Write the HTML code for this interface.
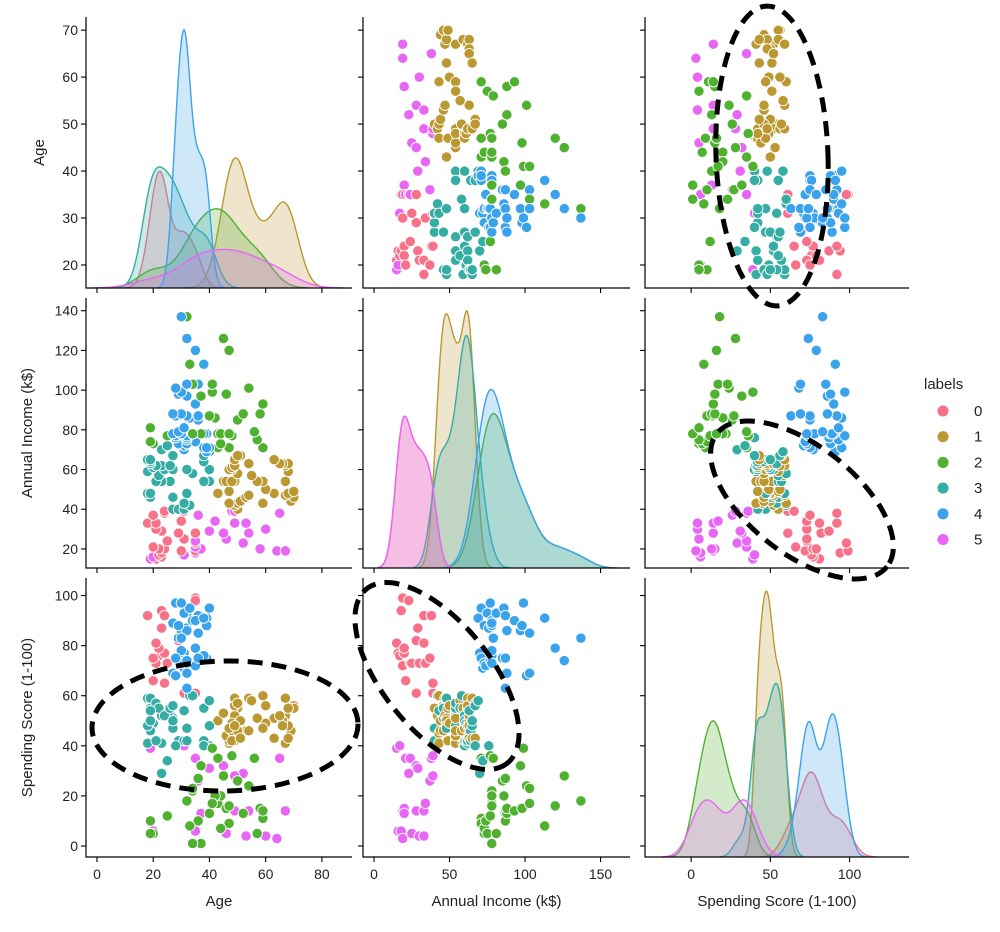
<!DOCTYPE html>
<html><head><meta charset="utf-8"><style>
body{margin:0;background:#fff;}
svg text{font-family:"Liberation Sans","DejaVu Sans",sans-serif;fill:#222;}
</style></head><body>
<svg id="chart" width="1000" height="927" viewBox="0 0 1000 927" xmlns="http://www.w3.org/2000/svg">
<g id="marks"></g>
<g id="axes"></g>
<g id="annot" fill="none" stroke="#000" stroke-width="5" stroke-dasharray="15,9">
<ellipse cx="772" cy="156" rx="56" ry="150" transform="rotate(-2 772 156)"/>
<ellipse cx="802" cy="500" rx="108" ry="54" transform="rotate(38 802 500)"/>
<ellipse cx="225" cy="726" rx="133" ry="65" transform="rotate(-1 225 726)"/>
<ellipse cx="437" cy="676" rx="112" ry="54" transform="rotate(51 437 676)"/>
</g>
<g id="legend">
<text x="924" y="389" font-size="15">labels</text>
</g>
</svg>
<script>
// Mall customers: age, annual income (k$), spending score
const ages=[19,21,20,23,31,22,35,23,64,30,67,35,58,24,37,22,35,20,52,35,35,25,46,31,54,29,45,35,40,23,60,21,53,18,49,21,42,30,36,20,65,24,48,31,49,24,50,27,29,31,49,33,31,59,50,47,51,69,27,53,70,19,67,54,63,18,43,68,19,32,70,47,60,60,59,26,45,40,23,49,57,38,67,46,21,48,55,22,34,50,68,18,48,40,32,24,47,27,48,20,23,49,67,26,49,21,66,54,68,66,65,19,38,19,18,19,63,49,51,50,27,38,40,39,23,31,43,40,59,38,47,39,25,31,20,29,44,32,19,35,57,32,28,32,25,28,48,32,34,34,43,39,44,38,47,27,37,30,34,30,56,29,19,31,50,36,42,33,36,32,40,28,36,36,52,30,58,27,59,35,37,32,46,29,41,30,54,28,41,36,34,32,33,38,47,35,45,32,32,30];
const incomes=[15,15,16,16,17,17,18,18,19,19,19,19,20,20,20,20,21,21,23,23,24,24,25,25,28,28,28,28,29,29,30,30,33,33,33,33,34,34,37,37,38,38,39,39,39,39,40,40,40,40,42,42,43,43,43,43,44,44,46,46,46,46,47,47,48,48,48,48,48,48,49,49,50,50,54,54,54,54,54,54,54,54,54,54,54,54,57,57,58,58,59,59,60,60,60,60,60,60,61,61,62,62,62,62,62,62,63,63,63,63,63,63,64,64,65,65,65,65,67,67,67,67,69,69,70,70,71,71,71,71,71,71,72,72,73,73,73,73,74,74,75,75,76,76,77,77,77,77,78,78,78,78,78,78,78,78,78,78,78,78,79,79,81,81,85,85,86,86,87,87,87,87,87,87,88,88,88,88,93,93,97,97,98,98,99,99,101,101,103,103,103,103,113,113,120,120,126,126,137,137];
const scores=[39,81,6,77,40,76,6,94,3,72,14,99,15,77,13,79,35,66,29,98,35,73,5,73,14,82,32,61,31,87,4,73,4,92,14,81,17,73,26,75,35,92,36,61,28,65,55,47,42,42,52,60,54,60,45,41,50,46,51,46,56,55,52,59,51,59,50,48,59,47,55,42,49,56,47,54,53,48,52,42,51,55,41,44,57,46,58,55,60,46,55,41,49,40,42,52,47,50,42,49,41,48,59,55,56,42,50,46,43,48,52,54,42,46,48,50,43,59,43,57,56,40,58,91,29,77,35,95,11,75,9,75,34,71,5,88,7,73,10,72,5,93,40,87,12,97,36,74,22,90,17,88,20,76,16,89,1,78,1,73,35,83,5,93,26,75,20,95,27,63,13,75,10,92,13,86,15,69,14,90,32,86,15,88,39,97,24,68,17,85,23,69,8,91,16,79,28,74,18,83];
const labelNames=['0','1','2','3','4','5'];
const colors=['#f77189','#bb9832','#50b131','#36ada4','#3ba3ec','#e866f4'];

function clusterOf(a,i,s){
  if(i<40){ return s>=61?0:(s<=40?5:3); }
  if(i<69){ return a>=43?1:3; }
  if(s>=60) return 4;
  if(s>40) return a>=43?1:3;
  if(a<=28 && s>=29) return 3;
  return 2;
}
const labels=ages.map((a,k)=>clusterOf(a,incomes[k],scores[k]));
const vars=[ages,incomes,scores];
const varNames=['Age','Annual Income (k$)','Spending Score (1-100)'];
const varKeys=['age','income','score'];

// layout
const colPx=[[86,352],[363,630],[645,909]];
const colDom=[[-3.9,90.7],[-7.3,169.5],[-29.1,137.5]];
const rowPx=[[17,288],[298,568],[578,857]];
const rowDom=[[72.8,15.1],[146.4,10.4],[107,-4.4]];
const xTicks=[[0,20,40,60,80],[0,50,100,150],[0,50,100]];
const yTicks=[[20,30,40,50,60,70],[20,40,60,80,100,120,140],[0,20,40,60,80,100]];

const NS='http://www.w3.org/2000/svg';
function el(tag,attrs,parent){const e=document.createElementNS(NS,tag);for(const k in attrs)e.setAttribute(k,attrs[k]);parent.appendChild(e);return e;}
function xs(c,v){const [a,b]=colPx[c],[d0,d1]=colDom[c];return a+(v-d0)/(d1-d0)*(b-a);}
function ys(r,v){const [a,b]=rowPx[r],[d0,d1]=rowDom[r];return a+(v-d0)/(d1-d0)*(b-a);}

const marks=document.getElementById('marks');
const axes=document.getElementById('axes');
const N=ages.length;

for(let r=0;r<3;r++)for(let c=0;c<3;c++){
  const g=el('g',{},marks);
  
  
  if(r!==c){
    for(let k=0;k<N;k++){
      const p=el('circle',{cx:xs(c,vars[c][k]).toFixed(1),cy:ys(r,vars[r][k]).toFixed(1),r:5.2,fill:colors[labels[k]],stroke:'#fff','stroke-width':0.9},g);
      
      
    }
  } else {
    const data=vars[c];
    const curves=[];let maxD=0;
    for(let L=0;L<6;L++){
      const vals=data.filter((v,k)=>labels[k]===L);
      const n=vals.length;const m=vals.reduce((s,v)=>s+v,0)/n;
      const sd=Math.sqrt(vals.reduce((s,v)=>s+(v-m)*(v-m),0)/(n-1));
      const bw=sd*Math.pow(n,-0.2);
      const lo=Math.min(...vals)-3*bw,hi=Math.max(...vals)+3*bw;
      const pts=[];
      for(let t=0;t<=200;t++){const x=lo+(hi-lo)*t/200;let d=0;for(const v of vals){const z=(x-v)/bw;d+=Math.exp(-0.5*z*z);}d=d/(N*bw*Math.sqrt(2*Math.PI));pts.push([x,d]);if(d>maxD)maxD=d;}
      curves.push(pts);
    }
    const top=rowPx[r][0],bot=rowPx[r][1];
    const yd=d=>bot-d/(maxD*1.05)*(bot-top);
    curves.forEach((pts,L)=>{
      let dstr='M'+xs(c,pts[0][0]).toFixed(1)+','+bot;
      pts.forEach(p=>dstr+=' L'+xs(c,p[0]).toFixed(1)+','+yd(p[1]).toFixed(1));
      dstr+=' L'+xs(c,pts[pts.length-1][0]).toFixed(1)+','+bot+' Z';
      const f=el('path',{d:dstr,fill:colors[L],'fill-opacity':0.25,stroke:'none'},g);
      
      
      let lstr='';
      pts.forEach((p,i)=>lstr+=(i?' L':'M')+xs(c,p[0]).toFixed(1)+','+yd(p[1]).toFixed(1));
      const ln=el('path',{d:lstr,fill:'none',stroke:colors[L],'stroke-width':1.4},g);
      
      
    });
  }
  const [xa,xb]=colPx[c],[ya,yb]=rowPx[r];
  const sp=el('path',{d:`M${xa},${ya} L${xa},${yb} L${xb},${yb}`,fill:'none',stroke:'#000','stroke-width':1.2},axes);
  
  
  xTicks[c].forEach(t=>{const x=xs(c,t);el('line',{x1:x,x2:x,y1:yb,y2:yb+5,stroke:'#000','stroke-width':1.1},axes);
    if(r===2){const tx=el('text',{x:x,y:yb+22,'font-size':14,'text-anchor':'middle'},axes);tx.textContent=t;
      
      }});
  yTicks[r].forEach(t=>{const y=ys(r,t);el('line',{x1:xa-5,x2:xa,y1:y,y2:y,stroke:'#000','stroke-width':1.1},axes);
    if(c===0){const tx=el('text',{x:xa-8,y:y+5,'font-size':14,'text-anchor':'end'},axes);tx.textContent=t;
      
      }});
}
for(let c=0;c<3;c++){const t=el('text',{x:(colPx[c][0]+colPx[c][1])/2,y:906,'font-size':15,'text-anchor':'middle'},axes);t.textContent=varNames[c];
  
  }
const yTitleX=[44,32,32];
for(let r=0;r<3;r++){const cy=(rowPx[r][0]+rowPx[r][1])/2;const t=el('text',{x:yTitleX[r],y:cy,'font-size':15,'text-anchor':'middle',transform:`rotate(-90 ${yTitleX[r]} ${cy})`},axes);t.textContent=varNames[r];
  
  }
const leg=document.getElementById('legend');
labelNames.forEach((nm,i)=>{const y=411+i*25.7;
  const m=el('circle',{cx:943,cy:y,r:6,fill:colors[i],stroke:'#fff','stroke-width':0.9},leg);
  
  
  const t=el('text',{x:974,y:y+5,'font-size':15},leg);t.textContent=nm;
  
  });
</script>
</body></html>
